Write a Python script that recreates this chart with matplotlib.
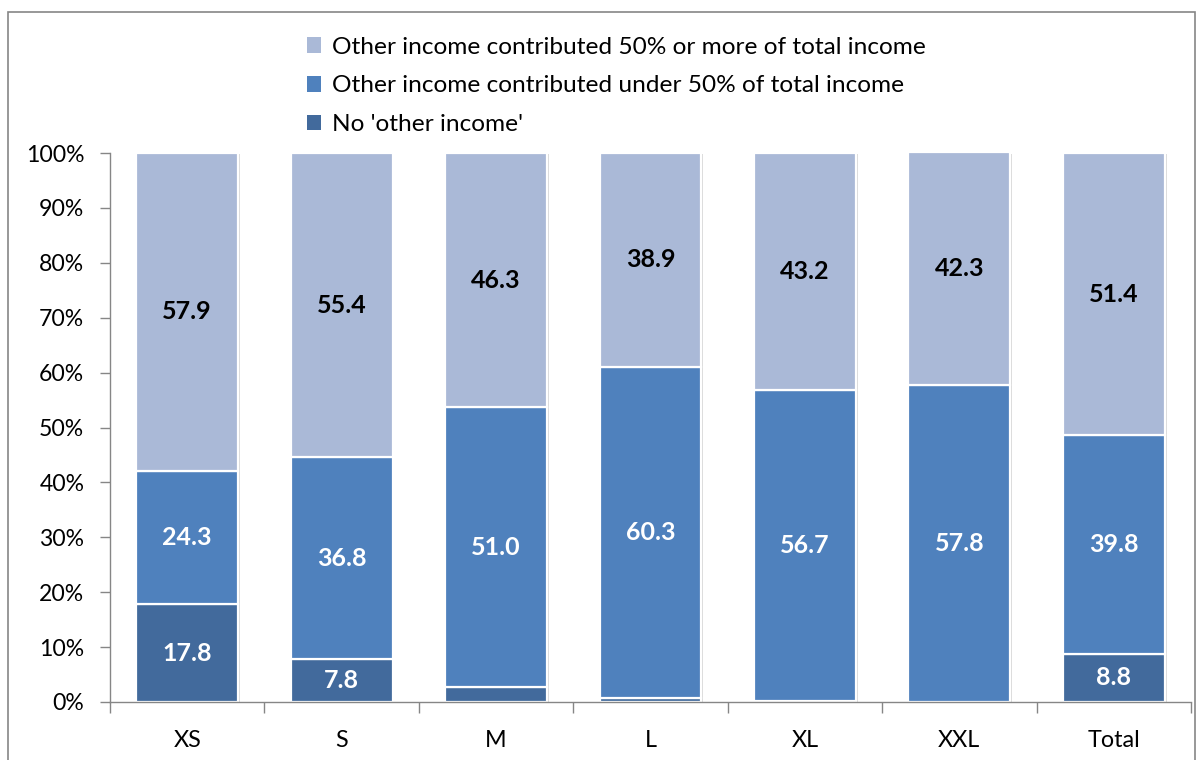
import matplotlib
matplotlib.use("Agg")
import matplotlib.pyplot as plt
from matplotlib.patches import Rectangle
from matplotlib.ticker import MultipleLocator, FuncFormatter

categories = ["XS", "S", "M", "L", "XL", "XXL", "Total"]
no_other = [17.8, 7.8, 2.7, 0.8, 0.1, 0.0, 8.8]
under_50 = [24.3, 36.8, 51.0, 60.3, 56.7, 57.8, 39.8]
over_50 = [57.9, 55.4, 46.3, 38.9, 43.2, 42.3, 51.4]
show_no_other_label = [True, True, False, False, False, False, True]

series_names = [
    "No 'other income'",
    "Other income contributed under 50% of total income",
    "Other income contributed 50% or more of total income",
]
colors = ["#426A9C", "#4F81BD", "#AAB9D7"]
label_colors = ["white", "white", "black"]

plt.rcParams["font.family"] = ["Lato", "DejaVu Sans"]

fig = plt.figure(figsize=(12.03, 7.60), dpi=100)
ax = fig.add_axes([110 / 1203, (760 - 702) / 760, (1191 - 110) / 1203, (702 - 153) / 760])

x = list(range(len(categories)))
width = 0.66
bottom = [0.0] * len(categories)
all_series = [no_other, under_50, over_50]
for k, vals in enumerate(all_series):
    # soft drop shadow behind each segment
    ax.bar([xi + 0.012 for xi in x], vals, width=width, bottom=[b - 0.25 for b in bottom],
           color="#d9d9d9", edgecolor="none", zorder=1)
    ax.bar(x, vals, width=width, bottom=bottom, color=colors[k], edgecolor="white",
           linewidth=1.6, label=series_names[k], zorder=2)
    for i, v in enumerate(vals):
        if k == 0 and not show_no_other_label[i]:
            continue
        ax.text(x[i], bottom[i] + v / 2, f"{v:.1f}", ha="center", va="center",
                color=label_colors[k], fontsize=18, fontweight="bold", zorder=3)
    bottom = [b + v for b, v in zip(bottom, vals)]

ax.set_xlim(-0.5, len(categories) - 0.5)
ax.set_ylim(0, 100)
ax.yaxis.set_major_locator(MultipleLocator(10))
ax.yaxis.set_major_formatter(FuncFormatter(lambda v, p: f"{v:.0f}%"))
ax.set_xticks(x)
ax.set_xticklabels(categories)
ax.set_xticks([xi - 0.5 for xi in x] + [len(categories) - 0.5], minor=True)
ax.tick_params(axis="x", which="major", length=0, pad=20, labelsize=16.8)
ax.tick_params(axis="x", which="minor", length=8, color="#868686", width=1)
ax.tick_params(axis="y", length=7, color="#868686", width=1, labelsize=16.6, pad=11.5)

for side in ["top", "right"]:
    ax.spines[side].set_visible(False)
for side in ["left", "bottom"]:
    ax.spines[side].set_color("#868686")
    ax.spines[side].set_linewidth(1)

handles, labels = ax.get_legend_handles_labels()
leg = fig.legend(handles[::-1], labels[::-1], loc="upper left",
                 bbox_to_anchor=(297 / 1203, 1 - 27 / 760), frameon=False,
                 fontsize=17.6, handlelength=0.6, handleheight=0.6,
                 handletextpad=0.45, labelspacing=0.72, borderaxespad=0)
for h in leg.legend_handles:
    h.set_edgecolor("none")

fig.patches.append(Rectangle((8 / 1203, -0.05), (1195 - 8) / 1203, 1.05 - 12 / 760,
                             transform=fig.transFigure, fill=False,
                             edgecolor="#868686", linewidth=1.2))

fig.savefig("out.png", dpi=100)
